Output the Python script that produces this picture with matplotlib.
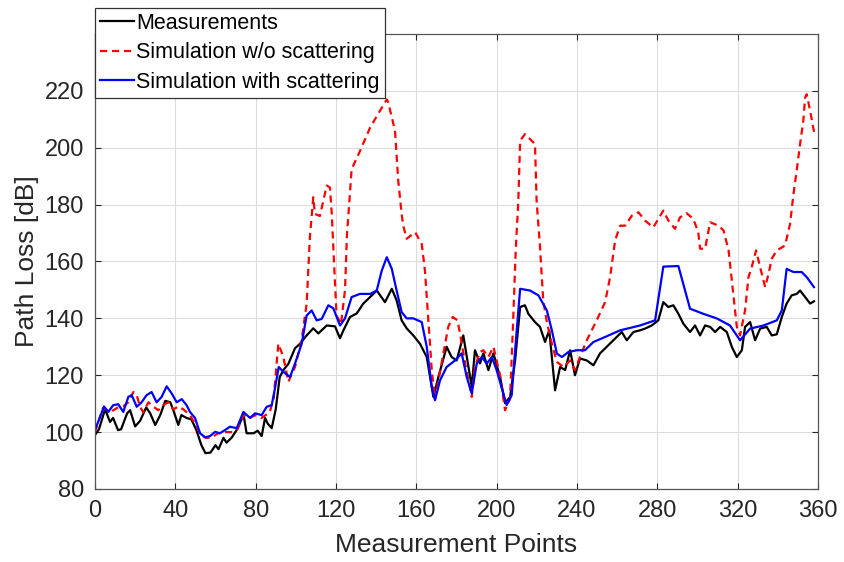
import matplotlib
matplotlib.use("Agg")
import matplotlib.pyplot as plt

# Measurements (black)
meas_x = [0, 2, 5, 7.5, 9, 11.5, 13, 16, 17.5, 20, 22.5, 25.5, 27.5, 30, 32.5, 35, 37.5, 39,
          41.5, 43, 45.5, 48, 50.5, 53, 55, 57.5, 60, 61.5, 64, 65.5, 68, 70.5, 74, 75.5, 79,
          81, 83, 84.7, 86, 88, 90, 92, 94, 96.3, 99.6, 102, 105.4, 108.7, 111.2, 115.4, 119.5,
          122, 123.7, 127, 130.3, 133.6, 137, 140.3, 144.4, 147.8, 150.2, 152.7, 155.2, 158.5,
          161.9, 165.2, 168.5, 171, 175.1, 177.6, 180.1, 183.4, 187.6, 189.2, 191.7, 193.4,
          195.9, 198.4, 201.7, 204.2, 206.7, 209.2, 211.7, 214.1, 215.8, 219.1, 221.6, 224.1,
          226.2, 229.1, 231.6, 234.1, 236.6, 239, 241.5, 244.9, 248.2, 251.5, 254.8, 258.1,
          262.3, 264.8, 268.1, 271.4, 273.9, 277.2, 280.5, 283, 285.5, 288, 290.5, 293, 296.3,
          298.8, 301.3, 303.8, 306.3, 308.8, 311.3, 314.6, 317.1, 319.6, 322.1, 323.7, 326.2,
          328.7, 331.2, 334.5, 337, 339.5, 342, 344.4, 346.9, 349.4, 351.1, 353.6, 356.1, 358]
meas_y = [99, 101, 108, 103.6, 105, 100.7, 101, 106.6, 107.7, 102, 104, 108.7, 106.6, 102.5,
          106, 111, 110.5, 107.7, 102.5, 106, 105, 104.5, 100.7, 95.4, 92.6, 92.8, 95.4, 94, 98,
          96.3, 98, 100.7, 106, 99.6, 99.6, 100.5, 98.6, 105, 103, 101.4, 108, 119.4, 122, 124,
          129.5, 131, 134, 136.5, 134.7, 137.5, 137.2, 133, 135.8, 140.5, 141.7, 145.2, 147.5,
          149.8, 145.7, 150.4, 146.3, 139.3, 136.5, 134, 131, 126.4, 112.4, 119.4, 130, 126.4,
          125.2, 134, 115.9, 128.8, 124.2, 127.7, 121.8, 127.7, 119.4, 110.2, 112.4, 125.2, 144,
          144.6, 141.6, 138.7, 137, 131.7, 135.8, 114.7, 122.9, 121.8, 128.8, 120, 125.9, 125.2,
          123.5, 127.7, 130, 132.3, 135.2, 132.3, 135.2, 135.8, 136.4, 137.5, 139.3, 145.7, 144,
          144.6, 141.6, 138.1, 135.2, 137.5, 134, 137.5, 137, 135.2, 137, 135.2, 130, 126.4,
          128.8, 137, 138.7, 132.3, 136.4, 137, 134, 134.4, 140.5, 145.2, 148.1, 148.6, 149.8,
          147.5, 145.2, 146]

# Simulation without scattering (red dashed)
noscat_x = [0, 4, 7.5, 11, 14, 16.6, 19.1, 20.8, 22.4, 24, 26.6, 29, 31.5, 34, 36.5, 39, 41.5,
            44, 47.3, 50.6, 52.3, 55, 58, 61, 65, 69, 71, 74, 77, 80, 83, 87, 89, 91.3, 93.8,
            96.3, 99.6, 102.9, 105.4, 107, 108.7, 109.5, 112, 113.7, 115.4, 117, 117.9, 119,
            120.3, 122.5, 124.5, 125.5, 126.1, 127.8, 132, 137, 141.9, 145.3, 146, 149.4, 151,
            152.7, 153.5, 155.2, 159.4, 162.7, 164.3, 166, 167.7, 169.3, 173.5, 175.9, 178.1,
            180.5, 181.8, 184.3, 187.6, 189.2, 191.7, 193.4, 195.9, 198.4, 201.7, 204.2, 206.7,
            208.3, 209.5, 210.8, 211.7, 214.1, 219.1, 219.9, 221.6, 223.2, 225, 227.5, 230,
            233.3, 236.6, 239, 241.5, 244.9, 249.8, 254, 256.5, 258.1, 259, 261.5, 264, 267.3,
            270.6, 273.9, 278, 283, 285.5, 288.8, 291.3, 294.6, 297.9, 300.4, 301.3, 303.8,
            306.3, 310.5, 313, 315.5, 318, 319.6, 321.2, 323.7, 325.4, 327, 329.2, 331.2, 333.7,
            335.4, 337, 339.5, 343.6, 346.1, 347.8, 349.4, 351.1, 352.7, 353.6, 354.4, 356.1, 358.1]
noscat_y = [100, 108.5, 107, 108.5, 109, 110.5, 114.1, 113, 109, 107, 110.5, 109, 107.7, 109.5,
            110.5, 108, 109, 108, 106, 102, 99.6, 98, 98, 99.5, 100, 100, 101, 106, 105, 106,
            105, 107, 112, 131.1, 126.4, 117.7, 122.9, 132.3, 145.2, 168.5, 182.6, 176.7, 176,
            181.4, 186.7, 186, 176.8, 160, 141, 138, 150, 170, 175.5, 192.5, 198.9, 207.1, 213,
            217, 216, 206, 188.4, 176.7, 172.6, 168, 170.3, 166.2, 156.8, 139.3, 121.8, 111.5,
            127.7, 137, 140.5, 139.3, 134.6, 124.1, 112.4, 122.9, 128.2, 128.8, 126.4, 130, 120,
            107.7, 111.8, 140.5, 163.9, 181.4, 202.5, 204.8, 201.3, 181.4, 165, 146.3, 138.7,
            131.1, 124.7, 122.9, 125.2, 121.8, 126.4, 132.3, 139.3, 145.7, 154.5, 162.7, 167.4,
            172.6, 172.6, 176.1, 177.3, 174.4, 172, 177.9, 174.4, 171.5, 175.5, 177, 175, 170.3,
            164.5, 164.5, 173.8, 172.6, 170.9, 163.9, 147.5, 137, 134, 142.8, 154.5, 158, 163.9,
            158, 151, 155.7, 161, 163.9, 165.6, 173.2, 183.7, 191.9, 201.3, 209.5, 217.6, 218.8,
            213, 205.4]

# Simulation with scattering (blue)
scat_x = [0, 4.5, 6.6, 9.1, 11.6, 14.1, 16.6, 18.3, 20.8, 23.2, 25.7, 28.2, 30.7, 33.2, 35.7,
          38.2, 40.7, 43.2, 45.6, 47.3, 49.8, 52.3, 54.8, 57.3, 59.8, 62.2, 64.7, 67.2, 70.6,
          73.9, 77.2, 79.7, 83, 85.5, 88, 89.6, 91.5, 93.8, 97.1, 99.6, 102.9, 105.4, 107.9,
          110.4, 112.9, 116.2, 118.7, 122, 124.5, 127.8, 131.9, 137, 140.3, 142.8, 145.3, 147.8,
          150.2, 152.7, 155.2, 158.5, 162.7, 165.2, 167.7, 169.3, 171.8, 175.1, 179.3, 182.6,
          185.1, 187.6, 190.1, 192.6, 195.1, 197.6, 200, 203.3, 205, 207.5, 209.2, 211.7,
          216.6, 220.8, 225, 227.5, 230, 232.5, 235.8, 240, 244, 248.2, 254.8, 261.5, 271.4,
          278.9, 283, 290.5, 296.3, 302.9, 309.6, 316.2, 321.2, 326.2, 332.9, 339.5, 342,
          344.4, 347.8, 351.9, 354.4, 358]
scat_y = [100.7, 109, 107.1, 109.5, 109.8, 107.1, 112.4, 113, 108.9, 110.5, 113, 114.1, 110.5,
          112.4, 116.1, 113.6, 110.5, 111.6, 109.5, 107.1, 105, 99.6, 98.2, 98.6, 100.1, 99.6,
          100.7, 101.9, 101.4, 107.1, 105, 106.6, 106, 108.9, 109.5, 115.3, 122.9, 121.2, 119.4,
          124.1, 131, 141, 142.8, 139.3, 139.8, 144.6, 143.5, 137.5, 140, 147.5, 148.6, 148.6,
          149.8, 156.8, 161.5, 157.4, 149.8, 142.2, 140, 140, 138.7, 130, 115.9, 111.2, 118.2,
          122.9, 125.2, 127.7, 119.4, 113.6, 124.1, 126.4, 124.1, 126.4, 121.8, 113.6, 109.5,
          113, 128.8, 150.4, 149.8, 148.1, 142.8, 135.8, 127.6, 126.4, 128.2, 128.8, 128.8,
          131.7, 133.7, 135.8, 137.5, 139.3, 158.2, 158.4, 143.4, 141.6, 140, 137.5, 132.3,
          136.4, 137.5, 139.3, 142.8, 157.4, 156.3, 156.3, 154.5, 151]

x_ticks = [0, 40, 80, 120, 160, 200, 240, 280, 320, 360]
y_ticks = [80, 100, 120, 140, 160, 180, 200, 220]

plt.rcParams['font.family'] = ['Liberation Sans', 'DejaVu Sans']

fig = plt.figure(figsize=(8.45, 5.62), dpi=100)
ax = fig.add_axes([0.1124, 0.1299, 0.8556, 0.8096])

ax.plot(meas_x, meas_y, color='black', lw=1.6, label='Measurements')
ax.plot(noscat_x, noscat_y, color='#ff0000', lw=1.6, ls='--', dashes=(3.2, 2.2),
        label='Simulation w/o scattering')
ax.plot(scat_x, scat_y, color='#0000ff', lw=1.6, label='Simulation with scattering')

ax.set_xlim(0, 360)
ax.set_ylim(80, 240)
ax.set_xticks(x_ticks)
ax.set_yticks(y_ticks)
ax.grid(True, color='#dcdcdc', lw=0.8)
ax.set_axisbelow(True)
ax.tick_params(direction='in', length=4, width=0.8, top=True, right=True,
               labelsize=17, colors='#262626', pad=8)
for s in ax.spines.values():
    s.set_color('#555555')
    s.set_linewidth(0.9)

ax.set_xlabel('Measurement Points', fontsize=19, color='#262626', labelpad=8)
ax.set_ylabel('Path Loss [dB]', fontsize=19, color='#262626', labelpad=4)

leg = ax.legend(loc='upper left', bbox_to_anchor=(0.0, 1.057), fontsize=15.5,
                frameon=True, fancybox=False, edgecolor='#333333', framealpha=1,
                handlelength=1.6, handletextpad=0.1, labelspacing=0.4,
                borderpad=0.22, borderaxespad=0)
leg.get_frame().set_linewidth(0.9)

fig.savefig('out.png', dpi=100)
